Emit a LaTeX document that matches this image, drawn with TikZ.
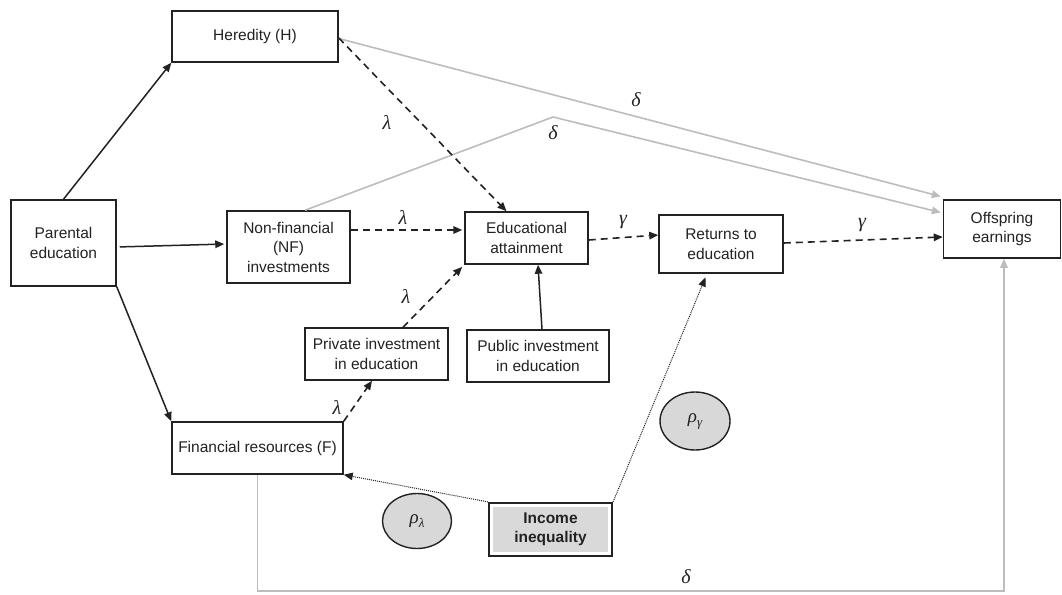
\documentclass[tikz,border=0pt]{standalone}
\usepackage{fontspec}
\setmainfont{Liberation Sans}
\newfontfamily\grk{Liberation Serif}
\usetikzlibrary{arrows.meta,calc,shapes.geometric}
\definecolor{ink}{HTML}{222222}
\definecolor{lgray}{HTML}{BDBDBD}
\definecolor{iifill}{HTML}{D9D9D9}
\definecolor{ellfill}{HTML}{D8D8D8}
\newcommand{\gk}[1]{{\grk\itshape #1}}
\begin{document}
\begin{tikzpicture}[x=1pt,y=-1pt,
  box/.style={draw=ink, line width=1.5pt, rectangle, inner sep=0pt, align=center,
    font=\fontsize{15.5}{19.5}\selectfont, text=ink},
  ell/.style={draw=ink, line width=1.4pt, ellipse, fill=ellfill, inner sep=0pt,
    minimum width=69pt, minimum height=55pt, font=\fontsize{19}{20}\selectfont, text=ink},
  lbl/.style={font=\fontsize{20}{22}\selectfont, text=ink, inner sep=0pt},
  tip/.style={-{Triangle[length=9pt,width=7.5pt]}},
  solidarr/.style={tip, draw=ink, line width=1.5pt},
  dasharr/.style={tip, draw=ink, line width=1.6pt, dash pattern=on 7pt off 5pt},
  grayarr/.style={tip, draw=lgray, line width=1.6pt},
  dotarr/.style={tip, draw=ink, line width=1pt, dash pattern=on 1pt off 1pt}
]
\useasboundingbox (0,0) rectangle (1062,594);
\fill[white] (0,0) rectangle (1062,594);

% nodes
\node[box, minimum width=166pt, minimum height=51pt] (H)  at (255,36.5) {Heredity (H)};
\node[box, minimum width=105pt, minimum height=86pt] (PE) at (63.5,243) {Parental\\education};
\node[box, minimum width=123pt, minimum height=72pt] (NF) at (288.5,247) {Non-financial\\(NF)\\investments};
\node[box, minimum width=123pt, minimum height=52pt] (EA) at (526.5,238) {Educational\\attainment};
\node[box, minimum width=124pt, minimum height=58pt] (RE) at (721,244) {Returns to\\education};
\node[box, minimum width=117pt, minimum height=58pt] (OE) at (1002,229) {Offspring\\earnings};
\node[box, minimum width=143pt, minimum height=52pt] (PI) at (376.5,354) {Private investment\\in education};
\node[box, minimum width=142pt, minimum height=52pt] (PU) at (538,356) {Public investment\\in education};
\node[box, minimum width=171pt, minimum height=52pt] (FR) at (257.5,448) {Financial resources (F)};
\node[box, line width=2.2pt, minimum width=123pt, minimum height=53pt,
  font=\fontsize{15.5}{19.5}\selectfont\bfseries,
  path picture={\fill[iifill] ([shift={(4pt,-4pt)}]path picture bounding box.north west)
    rectangle ([shift={(-4pt,4pt)}]path picture bounding box.south east);}]
  (II) at (550.5,529.5) {Income\\inequality};
\node[ell] (RL) at (417,521) {\gk{ρ}\raisebox{-4pt}{\fontsize{13}{14}\selectfont\gk{λ}}};
\node[ell, minimum width=70pt, minimum height=58pt] (RG) at (695,421) {\gk{ρ}\raisebox{-4pt}{\fontsize{13}{14}\selectfont\gk{γ}}};

% helper coordinates
\coordinate (peak) at (553,117);
\coordinate (bl) at (257.5,591);
\coordinate (br) at (1004,591);

% gray delta paths
\draw[grayarr, shorten >=2pt] ([yshift=-2pt]H.east) -- ([yshift=32pt]OE.west);
\draw[grayarr, shorten >=2pt] ([xshift=16.5pt]NF.north) -- (peak) -- ([yshift=16pt]OE.west);
\draw[grayarr] (FR.south) -- (bl) -- (br) -- ([xshift=2pt]OE.south);

% solid arrows
\draw[solidarr] (PE.north) -- (H.south west);
\draw[solidarr, shorten <=3pt, shorten >=2pt] ([yshift=-4pt]PE.east) -- ([yshift=3pt]NF.west);
\draw[solidarr] (PE.south east) -- (FR.north west);
\draw[solidarr] ([xshift=4pt]PU.north) -- ([xshift=11.5pt]EA.south);

% dashed arrows
\draw[dasharr] ([yshift=-1.5pt]H.east) -- ([xshift=-20pt]EA.north);
\draw[dasharr, shorten >=2pt] ([yshift=17pt]NF.east) -- ([yshift=8pt]EA.west);
\draw[dasharr, shorten >=3pt] ([xshift=26.5pt]PI.north) -- (EA.south west);
\draw[dasharr] (FR.north east) -- ([xshift=-4.5pt]PI.south);
\draw[dasharr] ([yshift=-2pt]EA.east) -- ([yshift=9pt]RE.west);
\draw[dasharr] ([yshift=1pt]RE.east) -- ([yshift=-8pt]OE.west);

% dotted arrows
\draw[dotarr] (II.north west) -- (FR.south east);
\draw[dotarr, shorten >=4pt] (II.north east) -- ([xshift=-14pt]RE.south);

% labels
\node[lbl] (l1) at (387,122) {\gk{λ}};
\node[lbl] (l2) at (403,217) {\gk{λ}};
\node[lbl] (l3) at (406,296) {\gk{λ}};
\node[lbl] (l4) at (337,407) {\gk{λ}};
\node[lbl] (d1) at (636,100) {\gk{δ}};
\node[lbl] (d2) at (553,133) {\gk{δ}};
\node[lbl] (d3) at (686,577) {\gk{δ}};
\node[lbl] (g1) at (623,222) {\gk{γ}};
\node[lbl] (g2) at (862,225) {\gk{γ}};
\end{tikzpicture}
\end{document}
